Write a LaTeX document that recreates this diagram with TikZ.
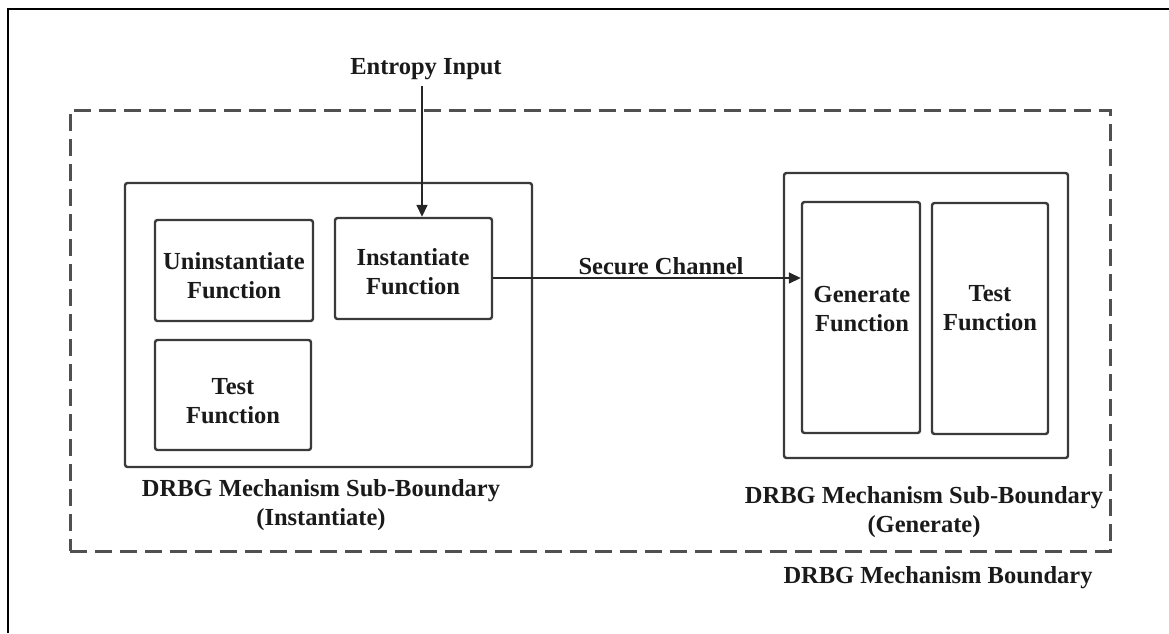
\documentclass[tikz,border=0pt]{standalone}
\usepackage{fontspec}
\setmainfont{Liberation Serif}
\usetikzlibrary{arrows.meta}
\definecolor{txtc}{HTML}{1A1A1A}
\definecolor{boxc}{HTML}{3A3A3A}
\definecolor{dashc}{HTML}{505050}
\begin{document}
\begin{tikzpicture}[x=1pt,y=-1pt,
  box/.style={draw=boxc, line width=2.4pt, rounded corners=2.5pt, inner sep=0pt, anchor=center},
  txt/.style={font=\bfseries\fontsize{24.5}{29}\selectfont, align=center, text=txtc, inner sep=0pt},
  arr/.style={draw=black!85, line width=1.6pt, -{Triangle[length=12pt,width=11pt]}},
  bound/.style={draw=dashc, line width=3pt, dash pattern=on 17pt off 8pt, inner sep=0pt, anchor=center}]
\useasboundingbox (0,0) rectangle (1169,633);
\draw[black, line width=2.4pt] (8,633) -- (8,9) -- (1169,9);
% outer dashed boundary
\node[bound, minimum width=1040pt, minimum height=441pt] (drbg) at (590,330.5) {};
% left sub-boundary
\node[box, minimum width=407pt, minimum height=284pt] (subL) at (328.5,325) {};
\node[box, minimum width=158pt, minimum height=101pt] (unin) at (234,270.5) {};
\node[box, minimum width=157pt, minimum height=101pt] (inst) at (413.5,268.5) {};
\node[box, minimum width=156pt, minimum height=110pt] (testL) at (233,395) {};
% right sub-boundary
\node[box, minimum width=284pt, minimum height=285pt] (subR) at (926,315.5) {};
\node[box, minimum width=118pt, minimum height=231pt] (gen) at (861,317.5) {};
\node[box, minimum width=116pt, minimum height=231pt] (testR) at (990,318.5) {};
% texts
\node[txt] (tunin) at (234,276) {Uninstantiate\\Function};
\node[txt] (tinst) at (413,272) {Instantiate\\Function};
\node[txt] (ttestL) at (233,401) {Test\\Function};
\node[txt] (tgen) at (862,309) {Generate\\Function};
\node[txt] (ttestR) at (990,308) {Test\\Function};
\node[txt] (ent) at (426,69) {Entropy Input};
\node[txt] (sec) at (661,266) {Secure Channel};
\node[txt] (lblL) at (321,505) {DRBG Mechanism Sub-Boundary\\(Instantiate)};
\node[txt] (lblR) at (924,512) {DRBG Mechanism Sub-Boundary\\(Generate)};
\node[txt] (lblB) at (938,578) {DRBG Mechanism Boundary};
% connectors
\coordinate (e0) at (422,86);
\draw[arr] (e0) -- (e0 |- inst.north);
\coordinate (sc) at (0,278);
\draw[arr] (inst.east |- sc) -- (gen.west |- sc);
\end{tikzpicture}
\end{document}
